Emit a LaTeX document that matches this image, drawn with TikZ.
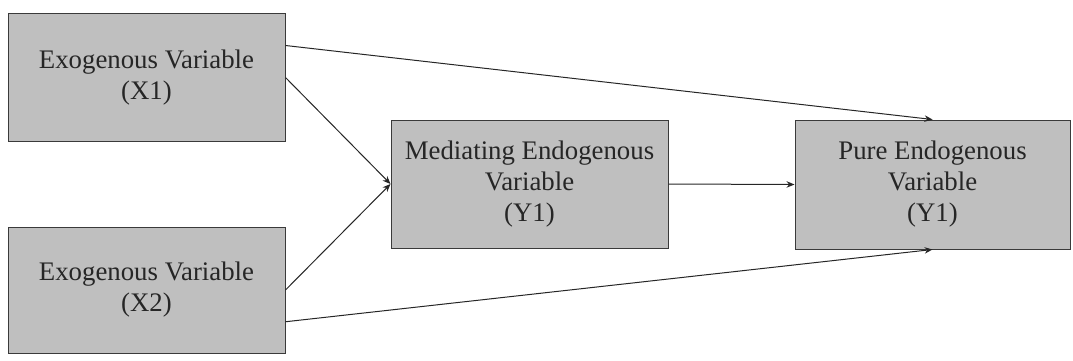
\documentclass[tikz,border=0pt]{standalone}
\usepackage{fontspec}
\setmainfont{Liberation Serif}
\usetikzlibrary{arrows.meta,calc}
\definecolor{boxfill}{HTML}{BFBFBF}
\definecolor{boxline}{HTML}{3A3A3A}
\definecolor{txt}{HTML}{262626}
\begin{document}
\begin{tikzpicture}[x=1pt,y=-1pt,
  varbox/.style={draw=boxline,line width=1pt,fill=boxfill,align=center,text=txt,
    font=\fontsize{26.8}{31}\selectfont,inner sep=0pt},
  link/.style={draw=black!85,line width=1pt,-{Stealth[length=8pt,width=6.5pt]}}]
\path[use as bounding box] (0,0) rectangle (1073,361);
\node[varbox,minimum width=277pt,minimum height=127pt] (X1) at (146.5,77.5) {Exogenous Variable\\(X1)};
\node[varbox,minimum width=277pt,minimum height=126pt] (X2) at (146.5,290) {Exogenous Variable\\(X2)};
\node[varbox,minimum width=277pt,minimum height=128pt] (M) at (529.5,184) {Mediating Endogenous\\Variable\\(Y1)};
\node[varbox,minimum width=275pt,minimum height=129pt] (P) at (932.5,184.5) {Pure Endogenous\\Variable\\(Y1)};
\draw[link] ($(X1.north east)!0.25!(X1.south east)$) -- (P.north);
\draw[link] (X1.east) -- (M.west);
\draw[link] (X2.east) -- (M.west);
\draw[link] ($(X2.north east)!0.75!(X2.south east)$) -- (P.south);
\draw[link] (M.east) -- (P.west);
\end{tikzpicture}
\end{document}
